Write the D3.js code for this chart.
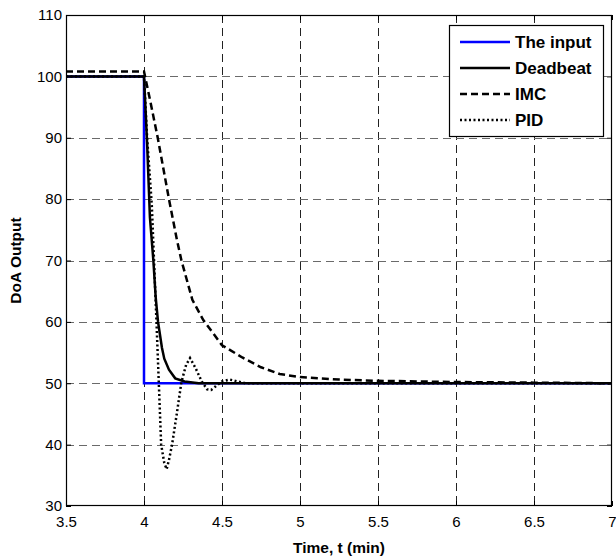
<!DOCTYPE html>
<html lang="en">
<head>
    <meta charset="UTF-8">
    <title>DoA Output</title>
    <script src="https://cdn.jsdelivr.net/npm/d3@7"></script>
    <style>
        body { margin: 0; background: #fff; }
        svg { font-family: "Liberation Sans", Arial, sans-serif; }
        .tick text { font-size: 15px; fill: #000; }
        .axis-label { font-size: 15.5px; font-weight: bold; }
        .legend text { font-size: 17px; font-weight: bold; }
        .line { fill: none; stroke-width: 2.5px; }
    </style>
</head>
<body>
    <div id="chart"></div>
    <script>
        // values (time in min, DoA output)
        const inputT = [3.5, 4.0, 4.0, 7.0];
        const inputV = [100, 100, 50, 50];

        const deadbeatT = [3.5, 4.0, 4.02, 4.038, 4.06, 4.075, 4.09, 4.1, 4.115, 4.13, 4.16, 4.2, 4.26, 4.35, 7.0];
        const deadbeatV = [100, 100, 89, 77, 70, 64, 60, 58.3, 55.8, 54, 52.2, 50.8, 50.3, 50, 50];

        const imcT = [3.5, 4.0, 4.04, 4.088, 4.16, 4.21, 4.24, 4.31, 4.38, 4.5, 4.63, 4.75, 4.87, 5.0, 5.25, 5.5, 5.75, 6.0, 6.5, 7.0];
        const imcV = [100.8, 100.8, 96, 90, 80, 73.5, 70, 63.6, 60.3, 56.2, 54.2, 52.6, 51.5, 51, 50.6, 50.4, 50.3, 50.2, 50.1, 50];

        const pidT = [3.5, 4.0, 4.02, 4.05, 4.08, 4.095, 4.11, 4.13, 4.145, 4.16, 4.18, 4.21, 4.24, 4.27, 4.295, 4.33, 4.37, 4.405, 4.43, 4.46, 4.5, 4.55, 4.6, 4.65, 7.0];
        const pidV = [100, 100, 90, 79, 60, 50, 40, 37, 36, 37.5, 40, 45, 50.2, 53, 54.1, 52.5, 50.3, 49, 48.9, 49.5, 50.3, 50.6, 50.3, 50, 50];

        const seriesNames = ["The input", "Deadbeat", "IMC", "PID"];
        const xTicks = [3.5, 4, 4.5, 5, 5.5, 6, 6.5, 7];
        const yTicks = [30, 40, 50, 60, 70, 80, 90, 100, 110];

        const W = 616, H = 558;
        const plot = { left: 66, right: 612, top: 15, bottom: 506 };

        const svg = d3.select("#chart").append("svg")
            .attr("width", W)
            .attr("height", H);

        const x = d3.scaleLinear().domain([3.5, 7]).range([plot.left, plot.right]);
        const y = d3.scaleLinear().domain([30, 110]).range([plot.bottom, plot.top]);

        // grid lines (dashed), not on the border
        svg.append("g").selectAll("line")
            .data(xTicks.slice(1, -1))
            .join("line")
            .attr("x1", d => Math.round(x(d)) + 0.5).attr("x2", d => Math.round(x(d)) + 0.5)
            .attr("y1", plot.top).attr("y2", plot.bottom)
            .attr("stroke", "#222").attr("stroke-dasharray", "8,5");
        svg.append("g").selectAll("line")
            .data(yTicks.slice(1, -1))
            .join("line")
            .attr("y1", d => Math.round(y(d)) + 0.5).attr("y2", d => Math.round(y(d)) + 0.5)
            .attr("x1", plot.left).attr("x2", plot.right)
            .attr("stroke", "#6a6a6a").attr("stroke-dasharray", "8,5");

        // axes, ticks inside like matlab
        svg.append("g")
            .attr("transform", `translate(0,${plot.bottom})`)
            .call(d3.axisBottom(x).tickValues(xTicks).tickFormat(d3.format("")).tickSize(-5).tickPadding(10));
        svg.append("g")
            .attr("transform", `translate(0,${plot.top})`)
            .call(d3.axisTop(x).tickValues(xTicks).tickFormat("").tickSize(-5));
        svg.append("g")
            .attr("transform", `translate(${plot.left},0)`)
            .call(d3.axisLeft(y).tickValues(yTicks).tickSize(-5).tickPadding(4));
        svg.append("g")
            .attr("transform", `translate(${plot.right},0)`)
            .call(d3.axisRight(y).tickValues(yTicks).tickFormat("").tickSize(-5));
        svg.selectAll(".domain").remove();
        svg.selectAll(".tick line").attr("stroke", "#000");

        // the data lines
        const line = d3.line().x(d => x(d[0])).y(d => y(d[1]));
        const zip = (ts, vs) => ts.map((t, i) => [t, vs[i]]);
        const series = [
            { name: seriesNames[0], pts: zip(inputT, inputV), color: "#0000ff", dash: null },
            { name: seriesNames[1], pts: zip(deadbeatT, deadbeatV), color: "#000", dash: null },
            { name: seriesNames[2], pts: zip(imcT, imcV), color: "#000", dash: "7,4" },
            { name: seriesNames[3], pts: zip(pidT, pidV), color: "#000", dash: "2,2.5" }
        ];

        svg.append("g").selectAll("path")
            .data(series)
            .join("path")
            .classed("line", true)
            .attr("d", d => line(d.pts))
            .attr("stroke", d => d.color)
            .attr("stroke-dasharray", d => d.dash);

        // plot border
        svg.append("rect")
            .attr("x", plot.left + 0.5).attr("y", plot.top + 0.5)
            .attr("width", plot.right - plot.left - 1).attr("height", plot.bottom - plot.top - 1)
            .attr("fill", "none").attr("stroke", "#000").attr("stroke-width", 1.2);

        // legend
        const legend = svg.append("g").classed("legend", true);
        legend.append("rect")
            .attr("x", 449.5).attr("y", 25.5)
            .attr("width", 154).attr("height", 111)
            .attr("fill", "#fff").attr("stroke", "#000").attr("stroke-width", 1.2);
        const entries = legend.selectAll(".entry")
            .data(series)
            .join("g")
            .attr("transform", (d, i) => `translate(0,${42 + i * 26})`);
        entries.append("line")
            .attr("x1", 460).attr("x2", 510)
            .attr("stroke", d => d.color)
            .attr("stroke-width", 2.5)
            .attr("stroke-dasharray", d => d.dash);
        entries.append("text")
            .attr("x", 515).attr("dy", "0.35em")
            .text(d => d.name);

        // axis titles
        svg.append("text").classed("axis-label", true)
            .attr("x", (plot.left + plot.right) / 2).attr("y", 553)
            .attr("text-anchor", "middle")
            .text("Time, t (min)");
        svg.append("text").classed("axis-label", true)
            .attr("transform", `translate(21,${(plot.top + plot.bottom) / 2}) rotate(-90)`)
            .attr("text-anchor", "middle")
            .text("DoA Output");
    </script>
</body>
</html>
